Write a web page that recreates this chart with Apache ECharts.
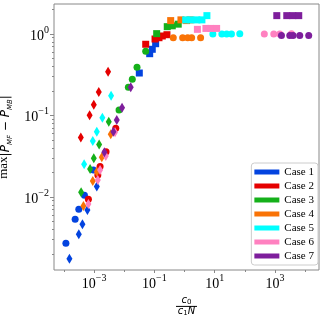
<!DOCTYPE html>
<html><head><meta charset="utf-8">
<script src="https://cdn.jsdelivr.net/npm/echarts@6/dist/echarts.min.js"></script>
<style>html,body{margin:0;padding:0;background:#fff}#c{width:325px;height:317px}</style>
</head><body><div id="c"></div>
<script>
// ---- data: [x, y] pairs per case and marker type ----
const caseNames = ['Case 1','Case 2','Case 3','Case 4','Case 5','Case 6','Case 7'];
const caseColors = ['#0343df','#e50000','#15b01a','#f97306','#00ffff','#ff81c0','#7e1e9c'];

const case1Diamonds = [[1.52e-4,0.00175],[3.11e-4,0.00349],[4.10e-4,0.00462],[6.0e-4,0.00692],[1.23e-3,0.0134]];
const case1Circles  = [[1.16e-4,0.0027],[2.35e-4,0.00532],[3.11e-4,0.00707],[4.78e-4,0.0105],[9.48e-4,0.0214]];
const case1Squares  = [[0.0316,0.332],[0.0698,0.573],[0.0851,0.649],[0.110,0.760]];

const case2Diamonds = [[3.63e-4,0.0537],[7.1e-4,0.101],[9.77e-4,0.135],[1.43e-3,0.194],[2.91e-3,0.345]];
const case2Circles  = [[6.47e-4,0.00938],[1.33e-3,0.0186],[1.58e-3,0.0236],[2.49e-3,0.036],[5.23e-3,0.0696]];
const case2Squares  = [[0.0515,0.748],[0.105,0.868],[0.142,0.90],[0.183,0.945],[0.261,0.98]];

const case3Diamonds = [[3.71e-4,0.0114],[7.37e-4,0.0221],[9.77e-4,0.0298],[1.47e-3,0.0441],[3.07e-3,0.084]];
const case3Circles  = [[6.73e-3,0.117],[0.0137,0.222],[0.0185,0.278],[0.0265,0.39],[0.0515,0.614]];
const case3Squares  = [[0.119,1.01],[0.267,1.23],[0.392,1.26],[0.618,1.32]];

const case4Diamonds = [[4.43e-4,0.00776],[9.05e-4,0.0157],[1.23e-3,0.0204],[1.80e-3,0.0307],[3.57e-3,0.0588]];
const case4Circles  = [[0.423,0.90],[0.865,0.90],[1.27,0.90],[1.72,0.90],[3.41,0.90]];
const case4Squares  = [[0.347,1.46],[0.76,1.49],[1.17,1.46],[1.51,1.49]];

const case5Diamonds = [[4.67e-4,0.0252],[9.05e-4,0.0487],[1.23e-3,0.0633],[1.88e-3,0.094],[3.66e-3,0.175]];
const case5Circles  = [[8.7,1.0],[17.3,1.0],[25,1.0],[36,1.0],[68,1.01]];
const case5Squares  = [[1.09,1.49],[1.63,1.49],[2.57,1.49],[3.77,1.49],[5.52,1.68]];

const case6Diamonds = [[6.47e-4,0.00821],[1.33e-3,0.0162],[1.58e-3,0.0214],[2.44e-3,0.0318],[4.95e-3,0.0622]];
const case6Circles  = [[443,1.0],[912,1.0],[1442,1.0],[3517,1.01]];
const case6Squares  = [[2.67,1.14],[5.12,1.17],[7.48,1.17],[11.6,1.17]];

const case7Diamonds = [[2.19e-3,0.0353],[4.36e-3,0.0633],[5.65e-3,0.088],[8.46e-3,0.124],[0.0164,0.222]];
const case7Circles  = [[1640,0.96],[3090,0.96],[3970,0.96],[6620,0.96],[13150,0.96]];
const case7Squares  = [[1148,1.68],[2460,1.68],[3890,1.68],[6140,1.68]];

const xTickValues = [1e-3, 1e-1, 1e1, 1e3];
const xMinorTickValues = [1e-4, 1e-2, 1e0, 1e2, 1e4];
const yTickValues = [1e-2, 1e-1, 1e0];
const yMinorTickValues = [0.002,0.003,0.004,0.005,0.006,0.007,0.008,0.009,
  0.02,0.03,0.04,0.05,0.06,0.07,0.08,0.09,0.2,0.3,0.4,0.5,0.6,0.7,0.8,0.9,2];

const allCases = [
  [case1Diamonds, case1Circles, case1Squares],
  [case2Diamonds, case2Circles, case2Squares],
  [case3Diamonds, case3Circles, case3Squares],
  [case4Diamonds, case4Circles, case4Squares],
  [case5Diamonds, case5Circles, case5Squares],
  [case6Diamonds, case6Circles, case6Squares],
  [case7Diamonds, case7Circles, case7Squares]
];

const xMin = Math.pow(10,-4.33), xMax = Math.pow(10,4.46);
const yMin = Math.pow(10,-2.896), yMax = Math.pow(10,0.368);

const shapes = [['diamond',[6,10]],['circle',7],['rect',7]];
const series = [];
allCases.forEach((c, i) => {
  c.forEach((pts, k) => {
    series.push({
      type:'scatter', name: caseNames[i], data: pts,
      symbol: shapes[k][0], symbolSize: shapes[k][1],
      itemStyle:{color: caseColors[i], opacity:1},
      emphasis:{disabled:true}, silent:true, animation:false
    });
  });
});

function powLabel(v){
  const e = Math.round(Math.log10(v));
  return '{b|10}{s|' + (e<0 ? '\u2212' + (-e) : e) + '}';
}
const labelRich = {
  b:{fontFamily:'Liberation Serif', fontSize:14, color:'#000', lineHeight:18, verticalAlign:'bottom'},
  s:{fontFamily:'Liberation Serif', fontSize:10, color:'#000', lineHeight:18, verticalAlign:'top'}
};

const axisGray = '#888';
const chart = echarts.init(document.getElementById('c'), null, {renderer:'canvas'});
chart.setOption({
  animation:false,
  grid:{left:54, right:6, top:4, bottom:47, containLabel:false, outerBoundsMode:'none',
        show:true, borderColor:axisGray, borderWidth:1, backgroundColor:'transparent'},
  legend:{
    data: caseNames, orient:'vertical', right:7, bottom:52,
    icon:'rect', itemWidth:25, itemHeight:5, itemGap:2,
    backgroundColor:'rgba(255,255,255,0.8)', borderColor:'#ccc', borderWidth:1, borderRadius:3,
    padding:[3,4,3,3],
    textStyle:{fontFamily:'Liberation Serif', fontSize:11, color:'#000', lineHeight:12}
  },
  xAxis:[{
    type:'log', min:xMin, max:xMax, logBase:10,
    axisLine:{show:false},
    axisTick:{show:true, customValues:xTickValues, length:3, lineStyle:{color:axisGray}},
    axisLabel:{customValues:xTickValues, formatter:powLabel, rich:labelRich, margin:3},
    splitLine:{show:false},
    name:'{n|c}{ns|0}\n{bar| }\n{n|c}{ns|1}{n|N}',
    nameLocation:'middle', nameGap:19,
    nameTextStyle:{align:'center', rich:{
      n:{fontFamily:'DejaVu Sans', fontStyle:'italic', fontSize:10, color:'#000', lineHeight:10, verticalAlign:'top'},
      ns:{fontFamily:'DejaVu Sans', fontSize:7, color:'#000', lineHeight:10, verticalAlign:'bottom'},
      bar:{fontSize:1, lineHeight:1, height:1, width:21, backgroundColor:'#000'}
    }}
  },{
    type:'log', min:xMin, max:xMax, logBase:10, position:'bottom',
    axisLine:{show:false},
    axisTick:{show:true, customValues:xMinorTickValues, length:2, lineStyle:{color:axisGray}},
    axisLabel:{show:false}, splitLine:{show:false}
  }],
  yAxis:[{
    type:'log', min:yMin, max:yMax, logBase:10,
    axisLine:{show:false},
    axisTick:{show:true, customValues:yTickValues, length:4, lineStyle:{color:axisGray}},
    axisLabel:{customValues:yTickValues, formatter:powLabel, rich:labelRich, margin:5},
    splitLine:{show:false},
    name:'{m|max}{i||P\u20D7}{sub|MF}{i| \u2212 P\u20D7}{sub|MB}{i||}',
    nameLocation:'middle', nameRotate:90, nameGap:22,
    nameTextStyle:{rich:{
      m:{fontFamily:'Liberation Serif', fontSize:13, color:'#000', lineHeight:19, verticalAlign:'bottom', padding:[0,0,1,0]},
      i:{fontFamily:'DejaVu Sans', fontStyle:'italic', fontSize:12, color:'#000', lineHeight:19, verticalAlign:'bottom'},
      sub:{fontFamily:'DejaVu Sans', fontStyle:'italic', fontSize:7, color:'#000', lineHeight:19, verticalAlign:'bottom', padding:[0,0,-2,0]}
    }}
  },{
    type:'log', min:yMin, max:yMax, logBase:10, position:'left',
    axisLine:{show:false},
    axisTick:{show:true, customValues:yMinorTickValues, length:2, lineStyle:{color:axisGray}},
    axisLabel:{show:false}, splitLine:{show:false}
  }],
  series: series
});
</script></body></html>
